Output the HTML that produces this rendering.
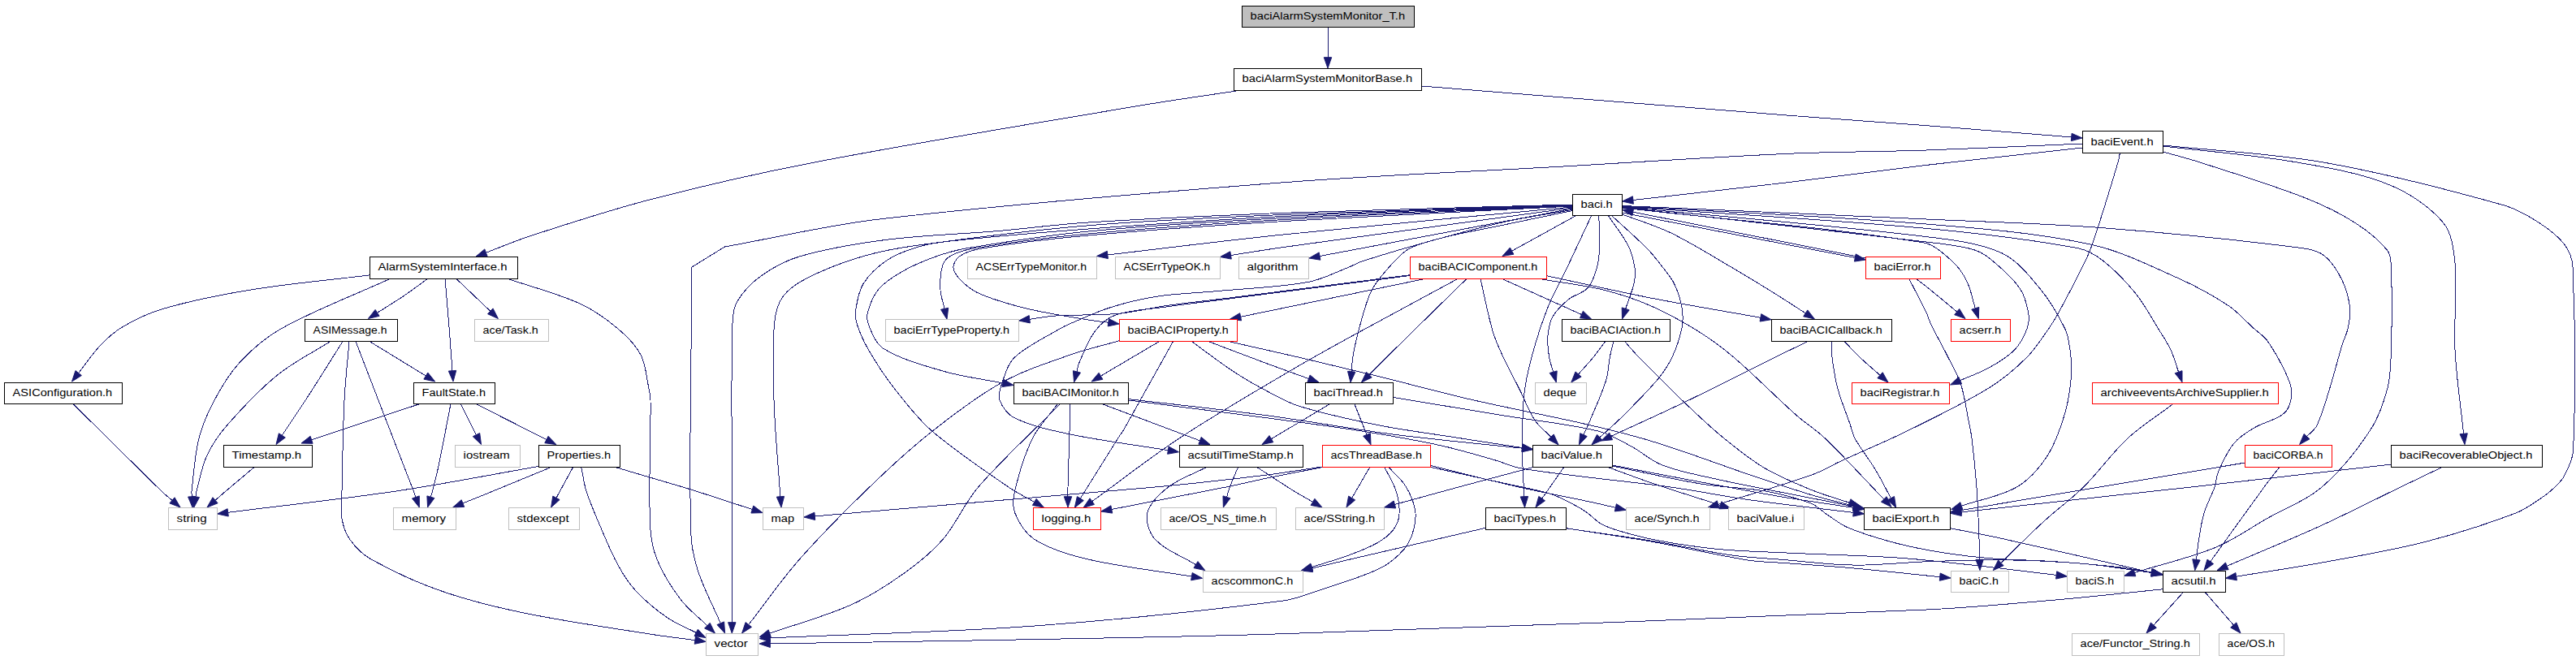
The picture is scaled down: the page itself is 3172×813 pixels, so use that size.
<!DOCTYPE html>
<html><head><meta charset="utf-8"><title>baciAlarmSystemMonitor_T.h include graph</title>
<style>html,body{margin:0;padding:0;background:#fff}svg{display:block}text{font-family:"Liberation Sans",sans-serif;font-size:12px;fill:#000}.e path{shape-rendering:crispEdges;fill:none;stroke:#191970;stroke-width:1}.e polygon{fill:#191970;stroke:#191970;stroke-width:1}.k{fill:#fff;stroke:#000}.g{fill:#fff;stroke:#bfbfbf}.r{fill:#fff;stroke:#f00}.f{fill:#bfbfbf;stroke:#000}</style></head><body>
<svg width="3172" height="813" viewBox="0 0 3172 813">
<rect width="3172" height="813" fill="#fff"/>
<g class="e">
<path d="M1635.0,34.0L1635.0,70.7"/><polygon points="1635.0,84.0 1630.3,70.7 1639.7,70.7"/>
<path d="M1529.0,111.0C1486.0,117.6 1442.9,123.4 1400.0,130.7C1267.5,153.1 1134.7,174.6 1002.7,200.0C934.7,213.1 867.0,228.6 800.0,246.0C750.1,258.9 701.0,275.1 652.0,291.0C633.8,296.9 616.3,304.5 598.4,311.3"/><polygon points="586.0,316.0 596.8,306.9 600.1,315.7"/>
<path d="M1750.6,106.0C1900.4,118.0 2050.2,130.3 2200.0,142.0C2257.3,146.5 2314.7,150.3 2372.0,154.7C2431.6,159.3 2491.2,164.2 2550.7,168.9"/><polygon points="2564.0,170.0 2550.4,173.6 2551.1,164.3"/>
<path d="M2564.2,182.0C2500.1,189.1 2436.0,195.9 2372.0,203.4C2314.3,210.2 2256.7,218.1 2199.0,225.0C2136.3,232.5 2073.6,239.3 2010.9,246.5"/><polygon points="1997.7,248.0 2010.4,241.8 2011.4,251.2"/>
<path d="M2564.2,177.0C2500.1,179.7 2436.1,182.8 2372.0,185.0C2314.7,187.0 2257.3,186.8 2200.0,189.4C2108.3,193.5 2016.7,199.8 1925.0,205.0C1810.0,211.6 1694.8,215.9 1580.0,224.8C1414.0,237.6 1247.9,251.0 1082.6,270.0C1018.7,277.4 955.8,292.7 892.4,304.0C892.4,304.0 892.4,304.0 892.4,304.0C878.8,312.4 865.2,320.8 851.6,329.2C851.6,329.2 851.6,329.2 851.6,329.2C851.5,352.8 851.3,376.4 851.2,400.0C851.0,485.0 848.4,570.2 850.7,655.0C851.1,671.2 854.4,687.6 859.4,703.0C866.6,725.2 878.0,746.2 887.3,767.8"/><polygon points="892.6,780.0 883.0,769.6 891.6,765.9"/>
<path d="M2610.5,188.0C2609.7,192.0 2609.2,196.1 2608.0,200.0C2600.0,227.1 2591.7,254.1 2583.0,281.0C2579.3,292.5 2575.8,304.1 2570.8,315.0C2559.8,338.8 2547.4,361.9 2535.0,385.0C2531.3,391.9 2527.1,398.6 2522.6,405.0C2514.1,416.9 2506.3,429.7 2496.0,440.0C2482.0,453.9 2466.5,467.2 2449.6,477.6C2417.2,497.5 2382.5,514.1 2348.3,531.0C2321.6,544.2 2293.9,555.5 2266.8,568.0C2255.1,573.4 2244.0,580.4 2231.8,584.7C2193.6,598.2 2154.4,609.1 2115.7,621.3"/><polygon points="2103.0,625.3 2114.3,616.8 2117.1,625.8"/>
<path d="M2663.6,187.0C2678.7,191.3 2694.0,195.1 2709.0,200.0C2752.1,214.0 2795.7,227.1 2837.8,243.5C2859.3,251.9 2880.6,262.1 2900.0,274.5C2914.7,283.9 2929.5,295.6 2940.0,308.7C2944.3,314.1 2944.1,322.8 2944.4,330.0C2945.6,363.5 2945.4,397.4 2944.4,431.0C2943.9,446.6 2943.9,462.7 2940.0,477.6C2935.3,495.7 2928.9,514.5 2918.6,530.0C2901.9,555.3 2881.9,580.4 2859.0,600.0C2839.6,616.6 2814.1,625.9 2791.5,638.7C2770.4,650.7 2750.4,665.3 2728.0,674.4C2696.0,687.5 2661.6,695.0 2628.4,705.4"/><polygon points="2615.7,709.3 2627.0,700.9 2629.8,709.8"/>
<path d="M2663.6,180.0C2718.6,186.7 2774.0,190.6 2828.5,200.0C2867.2,206.6 2907.3,213.2 2943.0,228.0C2967.3,238.1 2992.4,255.0 3008.6,274.5C3019.0,287.0 3021.4,307.0 3023.0,324.0C3026.2,359.2 3021.2,395.4 3023.0,431.0C3024.7,465.5 3030.1,499.8 3033.6,534.3"/><polygon points="3035.0,547.5 3029.0,534.8 3038.3,533.8"/>
<path d="M2663.6,179.0C2729.4,186.0 2796.0,188.6 2861.0,200.0C2935.8,213.2 3010.0,232.3 3083.0,252.8C3098.6,257.2 3113.1,265.7 3126.7,274.5C3138.0,281.8 3149.7,290.5 3157.7,301.0C3163.5,308.7 3167.6,319.1 3168.0,329.0C3171.2,403.8 3171.6,480.2 3168.6,555.0C3168.2,565.9 3162.5,576.4 3157.7,586.0C3155.0,591.4 3150.3,595.8 3146.0,600.0C3141.1,604.8 3135.7,609.2 3130.0,613.0C3119.7,619.9 3109.5,627.6 3098.0,632.0C3061.2,645.9 3023.2,658.1 2985.0,667.8C2942.6,678.6 2899.1,685.7 2856.0,693.6C2822.0,699.8 2787.8,704.6 2753.6,710.2"/><polygon points="2740.5,712.3 2752.9,705.5 2754.4,714.8"/>
<path d="M1936.2,252.0C1820.8,255.3 1705.4,257.7 1590.0,262.0C1506.6,265.1 1423.2,268.8 1340.0,274.0C1302.6,276.3 1265.4,281.4 1228.0,284.6C1182.8,288.5 1137.3,289.5 1092.4,295.2C1056.5,299.8 1020.1,305.6 985.6,315.6C968.3,320.6 951.5,329.6 937.0,340.0C925.7,348.1 915.1,359.3 908.0,371.0C903.4,378.6 902.3,388.8 902.0,398.0C900.0,465.1 901.4,532.7 901.3,600.0C901.2,655.6 901.3,711.1 901.3,766.7"/><polygon points="901.3,780.0 896.6,766.7 906.0,766.7"/>
<path d="M1936.2,252.4C1820.8,256.3 1705.4,259.1 1590.0,264.0C1506.6,267.6 1423.1,270.9 1340.0,277.8C1270.1,283.6 1200.4,292.5 1131.0,302.0C1108.1,305.1 1085.1,309.1 1063.0,315.6C1039.9,322.4 1016.8,331.1 995.3,341.8C983.9,347.5 971.6,355.1 964.3,365.0C957.7,373.9 954.6,386.6 953.6,398.0C950.8,429.3 952.0,461.4 953.0,493.0C954.1,528.7 957.6,564.3 960.0,600.0C960.3,603.9 960.6,607.8 960.9,611.7"/><polygon points="962.0,625.0 956.3,612.1 965.6,611.4"/>
<path d="M1936.2,252.8C1820.8,257.2 1705.3,260.4 1590.0,266.0C1506.6,270.1 1423.3,275.9 1340.0,282.0C1283.3,286.2 1226.5,291.0 1170.0,297.0C1156.9,298.4 1143.6,300.2 1131.0,304.0C1117.7,308.0 1103.8,312.8 1092.4,320.5C1081.1,328.0 1070.1,338.3 1063.0,349.6C1057.1,359.0 1055.3,371.5 1053.6,382.6C1052.8,388.3 1053.7,394.5 1055.5,400.0C1059.0,410.7 1063.8,421.2 1069.5,431.0C1078.9,447.1 1089.1,462.9 1100.6,477.6C1115.0,496.0 1129.4,515.1 1147.0,530.4C1176.5,555.9 1209.6,577.7 1241.8,600.0C1251.9,607.0 1263.1,612.2 1273.8,618.4"/><polygon points="1285.3,625.0 1271.4,622.4 1276.1,614.3"/>
<path d="M1936.2,253.2C1820.8,258.1 1705.3,261.8 1590.0,268.0C1506.6,272.4 1423.1,277.1 1340.0,285.0C1289.6,289.8 1239.4,297.7 1189.5,306.0C1176.3,308.2 1163.3,312.1 1150.7,316.6C1137.4,321.4 1124.1,327.0 1111.8,334.0C1101.4,339.9 1090.4,346.6 1082.7,355.4C1076.2,362.8 1071.8,373.1 1069.0,382.6C1067.4,388.0 1067.4,394.8 1069.5,400.0C1073.7,410.4 1078.6,423.7 1088.0,429.5C1109.6,442.8 1137.2,450.2 1162.7,457.5C1186.2,464.3 1210.9,467.1 1235.0,471.9"/><polygon points="1248.0,474.5 1234.0,476.5 1235.9,467.3"/>
<path d="M1936.2,253.6C1820.8,259.1 1705.3,263.3 1590.0,270.0C1506.6,274.8 1423.2,280.3 1340.0,288.0C1292.8,292.3 1245.6,298.4 1199.0,306.0C1189.0,307.6 1178.5,310.8 1170.0,315.6C1165.6,318.1 1161.8,323.2 1160.4,328.0C1157.8,337.1 1157.5,347.7 1158.0,357.4C1158.4,365.1 1161.4,372.7 1163.1,380.3"/><polygon points="1166.0,393.3 1158.5,381.3 1167.7,379.3"/>
<path d="M1936.2,254.0C1820.8,260.0 1705.3,265.0 1590.0,272.0C1506.6,277.0 1423.2,282.6 1340.0,290.0C1296.2,293.9 1252.3,299.0 1209.0,306.0C1199.5,307.5 1189.2,310.5 1181.7,315.6C1177.5,318.5 1173.4,325.3 1174.0,330.0C1174.7,336.0 1180.6,343.0 1185.6,347.7C1192.2,354.0 1200.4,359.5 1209.0,363.0C1227.6,370.5 1247.4,376.1 1267.0,380.7C1291.0,386.4 1315.6,389.9 1340.0,394.0C1348.2,395.4 1356.5,396.2 1364.8,397.3"/><polygon points="1378.0,399.0 1364.2,401.9 1365.4,392.6"/>
<path d="M1936.2,255.0C1817.5,266.3 1698.6,276.8 1580.0,289.0C1507.8,296.4 1435.9,305.6 1363.8,314.0"/><polygon points="1350.6,315.5 1363.3,309.3 1364.4,318.6"/>
<path d="M1936.2,256.0C1817.5,272.2 1698.7,288.1 1580.0,304.6C1558.5,307.6 1537.0,311.2 1515.5,314.5"/><polygon points="1502.4,316.5 1514.8,309.8 1516.3,319.1"/>
<path d="M1936.2,257.0L1625.1,315.5"/><polygon points="1612.0,318.0 1624.2,310.9 1625.9,320.2"/>
<path d="M1936.2,258.5C1908.1,263.5 1879.7,267.3 1851.8,273.5C1819.2,280.7 1786.9,289.9 1754.7,298.8C1728.7,306.0 1702.7,313.6 1677.0,322.0C1670.8,324.0 1665.1,327.6 1659.0,330.0C1643.0,336.1 1627.4,344.5 1610.6,347.5C1572.4,354.2 1532.9,355.3 1494.0,359.0C1471.3,361.1 1448.4,361.5 1426.0,365.0C1406.4,368.0 1386.9,372.6 1368.0,378.5C1351.4,383.6 1335.5,391.2 1319.4,398.0C1314.5,400.1 1309.6,402.3 1305.0,405.0C1286.3,416.3 1265.0,425.6 1249.6,440.0C1241.4,447.7 1237.8,460.5 1234.0,471.4C1231.6,478.2 1228.8,486.7 1231.0,493.0C1234.0,501.3 1241.3,511.0 1249.6,515.0C1270.3,525.0 1294.8,530.1 1318.0,535.0C1357.7,543.3 1398.2,548.1 1438.4,554.7"/><polygon points="1451.5,556.8 1437.6,559.3 1439.1,550.0"/>
<path d="M1936.2,259.5C1908.1,265.3 1879.9,271.1 1851.8,277.0C1827.9,282.0 1803.7,286.0 1780.0,292.0C1764.7,295.9 1748.5,299.2 1735.0,306.5C1725.1,311.8 1717.3,321.4 1709.7,330.0C1701.8,338.9 1693.4,348.3 1688.3,359.0C1681.1,374.2 1677.4,391.3 1672.8,407.7C1669.9,418.3 1667.7,429.2 1665.8,440.0C1664.8,445.8 1664.7,451.8 1664.2,457.8"/><polygon points="1663.0,471.0 1659.5,457.3 1668.9,458.2"/>
<path d="M1940.0,266.0L1861.7,309.1"/><polygon points="1850.0,315.5 1859.4,305.0 1863.9,313.2"/>
<path d="M1959.5,266.0C1949.5,287.3 1939.6,308.7 1929.5,330.0C1921.8,346.2 1912.6,361.8 1906.0,378.5C1898.1,398.5 1891.6,419.2 1886.0,440.0C1881.7,455.9 1878.1,472.2 1876.5,488.5C1874.3,512.2 1874.5,536.2 1874.6,560.0C1874.7,577.2 1876.1,594.5 1876.9,611.7"/><polygon points="1877.5,625.0 1872.2,611.9 1881.6,611.5"/>
<path d="M1968.8,266.0C1969.1,278.2 1970.3,290.4 1969.8,302.5C1969.5,311.7 1968.9,321.2 1966.4,330.0C1963.9,338.7 1960.6,348.5 1954.7,355.0C1948.9,361.4 1938.3,363.1 1931.4,368.8C1924.1,374.8 1916.6,381.9 1912.0,390.0C1908.1,396.8 1906.7,405.5 1906.0,413.5C1905.2,422.2 1906.3,431.3 1907.6,440.0C1908.5,446.2 1911.0,452.1 1912.7,458.2"/><polygon points="1916.3,471.0 1908.2,459.5 1917.2,456.9"/>
<path d="M1980.6,266.0C1988.7,278.2 1998.4,289.7 2005.0,302.7C2009.2,311.1 2011.6,320.7 2013.0,330.0C2013.9,336.3 2013.4,343.1 2012.0,349.4C2009.6,359.9 2005.1,370.1 2001.7,380.4"/><polygon points="1997.5,393.0 1997.2,378.9 2006.2,381.9"/>
<path d="M1985.0,266.0C1999.5,279.5 2014.6,292.4 2028.5,306.5C2035.6,313.7 2041.8,321.9 2048.0,330.0C2052.8,336.2 2058.2,342.4 2061.5,349.4C2065.8,358.5 2069.3,368.6 2071.0,378.5C2072.4,386.7 2072.6,395.6 2071.0,403.8C2068.6,416.1 2064.3,428.6 2059.0,440.0C2054.5,449.6 2048.4,458.8 2041.5,467.0C2027.7,483.4 2012.2,498.6 1997.0,513.8C1988.3,522.5 1978.9,530.5 1969.8,538.8"/><polygon points="1960.0,547.8 1966.6,535.3 1973.0,542.3"/>
<path d="M1997.7,264.0C2017.7,271.7 2038.5,277.7 2057.7,287.0C2083.7,299.7 2108.3,315.4 2133.4,330.0C2151.7,340.7 2169.7,351.8 2187.7,363.0C2199.6,370.4 2211.4,378.2 2223.2,385.8"/><polygon points="2234.4,393.0 2220.7,389.8 2225.8,381.9"/>
<path d="M1997.7,262.0L2284.3,317.5"/><polygon points="2297.4,320.0 2283.4,322.1 2285.2,312.9"/>
<path d="M2297.4,318.0L2010.7,261.1"/><polygon points="1997.7,258.5 2011.7,256.5 2009.8,265.7"/>
<path d="M1997.7,256.0C2121.1,270.3 2246.4,279.3 2368.0,298.8C2381.5,301.0 2392.8,312.0 2403.0,321.0C2410.7,327.8 2417.1,336.8 2421.7,346.0C2426.9,356.4 2428.8,368.5 2432.3,379.8"/><polygon points="2436.3,392.5 2427.8,381.2 2436.8,378.4"/>
<path d="M1997.7,255.5C2122.5,269.7 2247.3,283.2 2372.0,298.0C2390.3,300.2 2408.9,302.0 2426.6,306.5C2434.8,308.6 2443.0,312.7 2449.6,318.0C2463.1,328.9 2477.1,341.0 2487.0,355.0C2493.2,363.7 2495.9,375.5 2497.8,386.0C2498.9,392.1 2498.2,399.2 2496.0,405.0C2492.5,414.2 2487.5,423.9 2480.7,431.0C2472.1,439.9 2460.6,446.6 2449.6,452.8C2438.2,459.2 2425.6,463.4 2413.7,468.6"/><polygon points="2401.5,474.0 2411.8,464.3 2415.6,472.9"/>
<path d="M1997.7,255.0C2122.5,267.2 2247.7,276.5 2372.0,291.6C2403.5,295.4 2437.1,299.1 2465.0,311.8C2483.7,320.3 2498.3,339.1 2511.8,355.3C2524.2,370.2 2534.3,387.7 2542.8,405.0C2546.7,412.9 2547.8,422.2 2549.0,431.0C2550.4,441.2 2551.4,451.7 2550.6,462.0C2549.4,477.6 2547.3,493.7 2542.8,508.7C2537.4,526.8 2531.2,545.8 2521.0,561.5C2511.4,576.3 2498.4,591.2 2483.3,600.0C2463.2,611.7 2438.0,615.4 2415.3,623.1"/><polygon points="2402.7,627.4 2413.8,618.7 2416.8,627.6"/>
<path d="M1997.7,254.5C2122.5,263.5 2247.5,270.0 2372.0,281.4C2434.2,287.1 2496.9,294.5 2558.0,305.6C2569.4,307.7 2580.3,313.9 2589.4,321.0C2604.3,332.6 2617.8,346.8 2629.8,361.5C2640.6,374.8 2648.6,390.4 2657.7,405.0C2663.0,413.5 2668.8,421.9 2673.0,431.0C2677.1,439.7 2679.4,449.2 2682.6,458.3"/><polygon points="2687.0,470.8 2678.2,459.8 2687.0,456.7"/>
<path d="M1997.7,254.0C2122.5,261.3 2247.5,265.8 2372.0,276.0C2439.6,281.5 2508.1,286.8 2574.0,301.0C2611.7,309.1 2647.2,327.2 2682.6,342.9C2704.1,352.5 2725.2,364.0 2744.7,377.0C2756.2,384.7 2765.3,395.7 2775.7,405.0C2780.8,409.6 2787.0,413.2 2791.0,418.6C2799.4,430.2 2806.8,443.0 2813.0,456.0C2817.2,464.8 2822.0,474.7 2822.0,484.0C2822.0,492.3 2819.0,503.1 2813.0,508.7C2803.5,517.5 2787.5,519.9 2775.7,527.0C2766.8,532.3 2757.4,538.1 2750.9,546.0C2742.8,555.8 2737.2,568.2 2732.0,580.0C2729.2,586.2 2729.2,593.5 2727.0,600.0C2723.2,610.9 2717.3,621.0 2714.0,632.0C2710.8,642.5 2709.4,653.6 2707.6,664.5C2706.2,672.7 2705.5,681.1 2704.5,689.4"/><polygon points="2702.8,702.6 2699.8,688.8 2709.1,690.0"/>
<path d="M1997.7,253.5C2122.5,259.0 2247.2,264.3 2372.0,270.0C2444.3,273.3 2516.8,275.1 2589.0,280.7C2671.0,287.0 2753.3,295.2 2834.7,305.6C2844.5,306.8 2855.4,309.5 2862.7,315.5C2871.9,323.0 2879.1,334.9 2884.4,346.0C2889.4,356.4 2892.4,368.5 2893.7,380.0C2894.6,388.2 2892.8,396.9 2891.0,405.0C2889.5,411.9 2886.0,418.2 2884.0,425.0C2878.7,442.4 2874.4,460.2 2869.0,477.6C2864.1,493.2 2859.9,509.5 2853.0,524.0C2850.4,529.5 2844.7,533.1 2840.6,537.7"/><polygon points="2831.6,547.5 2837.1,534.5 2844.0,540.8"/>
<path d="M456.0,338.8C407.3,344.8 358.4,349.0 310.0,356.8C273.7,362.7 237.2,369.9 202.0,380.0C184.6,385.0 167.6,393.0 152.0,402.0C141.6,408.0 132.3,416.3 124.0,425.0C113.9,435.5 105.8,448.0 96.7,459.6"/><polygon points="88.5,470.0 93.0,456.6 100.4,462.5"/>
<path d="M480.0,343.5C435.3,364.0 388.6,381.2 346.0,405.0C327.0,415.6 309.8,430.7 295.0,446.6C282.5,460.1 272.7,476.7 264.0,493.0C256.1,507.8 249.1,523.7 245.0,540.0C239.7,561.1 238.6,583.3 236.0,605.0C235.7,607.2 236.2,609.5 236.3,611.7"/><polygon points="237.0,625.0 231.6,612.0 241.0,611.5"/>
<path d="M526.4,343.5C516.6,350.5 507.0,357.8 497.0,364.6C486.4,371.8 475.4,378.4 464.6,385.3"/><polygon points="453.4,392.5 462.1,381.4 467.1,389.3"/>
<path d="M548.0,343.5C549.6,362.3 551.3,381.2 552.8,400.0C554.3,418.9 555.6,437.8 557.0,456.7"/><polygon points="558.0,470.0 552.3,457.1 561.7,456.4"/>
<path d="M562.0,343.5L603.8,383.3"/><polygon points="613.4,392.5 600.5,386.7 607.0,379.9"/>
<path d="M625.8,343.5C655.2,353.7 685.9,361.2 714.0,374.0C731.0,381.7 746.8,393.0 761.0,405.0C771.8,414.0 782.6,424.8 789.0,437.0C795.2,449.0 795.9,464.0 798.8,477.6C799.9,482.7 800.9,487.8 801.0,493.0C801.5,544.6 798.4,596.6 800.6,648.0C801.2,662.2 804.0,677.0 809.4,690.0C816.6,707.2 827.0,723.9 838.4,738.8C847.5,750.8 860.1,760.1 870.9,770.7"/><polygon points="880.4,780.0 867.6,774.0 874.2,767.3"/>
<path d="M407.0,420.5C385.2,434.3 361.5,445.8 341.6,462.0C319.0,480.3 298.7,502.1 279.5,524.0C269.7,535.2 260.9,548.1 254.7,561.5C248.4,575.1 246.0,590.4 242.0,605.0C241.4,607.2 241.3,609.6 240.9,611.9"/><polygon points="238.8,625.0 236.3,611.1 245.5,612.6"/>
<path d="M422.0,420.5C408.7,441.7 395.5,463.0 382.0,484.0C370.7,501.6 358.9,518.9 347.3,536.4"/><polygon points="340.0,547.5 343.4,533.8 351.3,539.0"/>
<path d="M430.0,420.5C428.0,444.7 425.2,468.8 424.0,493.0C422.2,530.3 421.8,567.7 421.0,605.0C420.8,616.2 419.2,627.8 421.0,638.7C422.5,647.6 425.6,657.2 430.8,664.5C437.5,673.9 446.4,682.9 456.6,688.7C483.5,703.9 512.6,717.2 542.0,727.5C575.4,739.3 610.2,747.8 645.0,755.0C696.2,765.6 748.3,772.8 800.0,781.0C818.5,784.0 837.2,786.1 855.8,788.6"/><polygon points="869.0,790.4 855.2,793.3 856.5,783.9"/>
<path d="M438.0,420.5C449.3,449.9 460.6,479.3 472.0,508.7C484.4,540.8 496.9,572.9 509.3,605.0C510.2,607.5 511.0,610.0 511.9,612.4"/><polygon points="516.3,625.0 507.5,614.0 516.3,610.9"/>
<path d="M455.0,420.5L524.4,463.0"/><polygon points="535.7,470.0 521.9,467.1 526.8,459.0"/>
<path d="M90.0,497.5C126.3,533.3 162.3,569.4 198.8,605.0C202.9,609.0 207.6,612.5 211.9,616.3"/><polygon points="222.0,625.0 208.9,619.9 215.0,612.8"/>
<path d="M517.0,497.5L383.6,541.8"/><polygon points="371.0,546.0 382.1,537.3 385.1,546.3"/>
<path d="M555.0,497.5C550.0,523.0 545.3,548.6 540.0,574.0C537.8,584.4 535.2,594.7 532.6,605.0C532.0,607.5 531.1,609.8 530.4,612.3"/><polygon points="526.6,625.0 525.9,610.9 534.9,613.6"/>
<path d="M567.4,497.5L586.5,535.6"/><polygon points="592.5,547.5 582.3,537.7 590.7,533.5"/>
<path d="M586.0,497.5L672.9,541.5"/><polygon points="684.8,547.5 670.8,545.7 675.1,537.3"/>
<path d="M313.0,575.5C301.3,585.3 289.6,595.1 278.0,605.0C273.6,608.7 269.4,612.5 265.0,616.3"/><polygon points="255.0,625.0 262.0,612.7 268.1,619.8"/>
<path d="M663.0,574.5C604.5,584.7 546.3,596.3 487.6,605.0C418.8,615.2 349.7,622.5 280.7,631.3"/><polygon points="267.5,633.0 280.1,626.7 281.3,636.0"/>
<path d="M678.6,575.5C654.7,585.3 630.9,595.2 607.0,605.0C594.7,610.1 582.3,615.0 569.9,620.0"/><polygon points="557.6,625.0 568.2,615.7 571.7,624.4"/>
<path d="M705.6,575.5L685.0,613.3"/><polygon points="678.6,625.0 680.8,611.1 689.1,615.6"/>
<path d="M715.8,575.5C717.9,585.3 718.9,595.5 722.0,605.0C726.7,619.6 732.9,633.8 739.0,648.0C746.1,664.5 752.8,681.4 761.5,697.0C767.8,708.4 775.1,719.6 784.0,729.0C795.3,740.9 808.4,751.7 822.0,761.0C832.8,768.5 845.5,773.2 857.2,779.4"/><polygon points="869.0,785.5 855.0,783.5 859.4,775.2"/>
<path d="M757.8,575.5C771.9,579.7 785.9,583.8 800.0,588.0C817.3,593.1 834.7,598.0 852.0,603.4C876.9,611.2 901.6,619.5 926.3,627.5"/><polygon points="939.0,631.6 924.9,632.0 927.8,623.0"/>
<path d="M1736.2,338.7C1662.0,348.1 1587.8,357.6 1513.6,367.0C1487.7,370.3 1461.8,372.9 1436.0,376.6C1416.5,379.4 1397.3,384.5 1377.7,386.3C1351.9,388.6 1325.8,387.4 1300.0,389.0C1289.2,389.7 1278.5,391.8 1267.8,393.3"/><polygon points="1254.6,395.0 1267.2,388.6 1268.4,397.9"/>
<path d="M1736.2,339.5C1662.0,349.0 1587.8,358.5 1513.6,368.0C1487.7,371.3 1461.8,374.3 1436.0,378.0C1415.2,381.0 1393.1,381.4 1373.8,388.0C1364.0,391.3 1354.8,399.4 1348.5,407.7C1339.9,418.9 1334.9,433.3 1329.0,446.5C1327.4,450.1 1327.0,454.1 1326.0,457.9"/><polygon points="1322.6,470.8 1321.4,456.7 1330.5,459.1"/>
<path d="M1754.4,343.5L1527.6,390.3"/><polygon points="1514.6,393.0 1526.7,385.7 1528.6,394.9"/>
<path d="M1795.0,343.5C1753.0,366.2 1710.9,388.6 1669.0,411.6C1642.5,426.1 1616.0,440.6 1590.0,456.0C1543.7,483.4 1496.9,510.4 1452.0,540.0C1415.2,564.3 1380.5,591.7 1344.8,617.6"/><polygon points="1334.0,625.4 1342.0,613.8 1347.5,621.4"/>
<path d="M1806.0,343.5C1797.3,351.9 1788.6,360.3 1780.0,368.8C1755.8,392.5 1731.6,416.2 1707.5,440.0C1700.3,447.1 1693.1,454.4 1685.9,461.6"/><polygon points="1676.5,471.0 1682.6,458.3 1689.2,464.9"/>
<path d="M1823.0,343.6C1828.0,365.0 1831.9,386.7 1838.0,407.7C1841.2,418.8 1846.2,429.5 1851.0,440.0C1857.1,453.2 1864.2,465.8 1870.7,478.8C1877.2,491.7 1882.1,505.7 1890.0,517.7C1895.2,525.5 1903.2,531.4 1909.8,538.2"/><polygon points="1919.0,547.8 1906.4,541.5 1913.2,535.0"/>
<path d="M1850.0,343.6L1947.5,387.5"/><polygon points="1959.6,393.0 1945.5,391.8 1949.4,383.2"/>
<path d="M1904.3,339.7C1947.0,348.8 1989.6,358.6 2032.4,367.0C2077.4,375.8 2122.7,383.2 2167.9,391.3"/><polygon points="2181.0,393.7 2167.1,396.0 2168.7,386.7"/>
<path d="M1896.5,343.6C1922.3,348.1 1948.6,350.8 1974.0,357.0C1993.9,361.8 2013.6,368.4 2032.4,376.6C2052.5,385.3 2071.9,396.1 2090.6,407.7C2106.0,417.3 2120.9,428.2 2134.7,440.0C2161.5,462.9 2186.0,488.4 2212.4,511.8C2223.6,521.7 2236.6,529.6 2247.4,540.0C2272.4,564.0 2295.6,590.0 2319.8,614.9"/><polygon points="2329.0,624.5 2316.4,618.2 2323.1,611.7"/>
<path d="M1378.5,419.7C1358.3,425.5 1337.7,430.0 1318.0,437.0C1289.6,447.1 1260.2,456.4 1234.0,471.0C1203.2,488.1 1174.7,510.1 1147.0,532.0C1120.3,553.1 1095.2,576.3 1070.7,600.0C1040.7,629.0 1011.1,658.7 983.6,690.0C961.5,715.2 942.4,743.0 921.8,769.5"/><polygon points="913.6,780.0 918.1,766.6 925.5,772.4"/>
<path d="M1428.0,420.3L1355.4,463.2"/><polygon points="1344.0,470.0 1353.1,459.2 1357.8,467.3"/>
<path d="M1444.7,420.3C1424.6,456.2 1404.8,492.3 1384.5,528.0C1382.1,532.2 1379.1,535.9 1376.6,540.0C1361.1,564.7 1345.8,589.4 1330.3,614.1"/><polygon points="1323.3,625.4 1326.4,611.6 1334.3,616.6"/>
<path d="M1487.4,420.3C1511.6,429.5 1535.7,438.8 1560.0,447.8C1577.1,454.2 1594.3,460.2 1611.5,466.5"/><polygon points="1624.0,471.0 1609.9,470.9 1613.1,462.0"/>
<path d="M1467.0,420.3C1484.5,432.9 1501.5,446.2 1519.4,458.0C1532.5,466.6 1546.2,474.4 1560.0,481.7C1572.6,488.4 1585.2,495.8 1598.8,500.0C1630.5,509.8 1663.3,516.9 1696.0,523.5C1728.1,529.9 1760.7,533.9 1793.0,539.0C1820.2,543.3 1847.4,547.4 1874.6,551.6"/><polygon points="1887.7,553.6 1873.8,556.2 1875.3,546.9"/>
<path d="M1511.7,420.3C1540.7,426.9 1569.8,433.2 1598.8,440.0C1631.2,447.6 1663.6,455.4 1696.0,463.3C1734.8,472.8 1773.4,483.4 1812.4,492.4C1857.5,502.8 1903.1,511.2 1948.3,521.5C1973.0,527.1 1997.6,533.2 2022.0,540.0C2040.4,545.2 2058.4,551.4 2076.5,557.5C2102.4,566.3 2128.1,575.9 2154.0,584.7C2179.8,593.4 2205.7,602.2 2231.8,610.0C2248.6,615.0 2265.7,618.7 2282.6,623.1"/><polygon points="2295.5,626.4 2281.4,627.6 2283.8,618.5"/>
<path d="M1977.0,420.3C1972.0,426.9 1967.2,433.6 1962.0,440.0C1956.1,447.2 1949.7,454.0 1943.6,461.0"/><polygon points="1934.8,471.0 1940.0,457.9 1947.1,464.1"/>
<path d="M1986.8,420.3C1985.3,426.9 1983.6,433.4 1982.3,440.0C1980.5,449.6 1980.4,459.7 1977.5,469.0C1972.3,485.6 1964.7,501.5 1958.0,517.7C1955.5,523.8 1952.6,529.7 1949.9,535.7"/><polygon points="1944.5,547.8 1945.7,533.7 1954.2,537.6"/>
<path d="M2000.4,420.3C2006.3,426.9 2011.8,433.7 2018.0,440.0C2037.2,459.6 2056.6,479.1 2076.5,498.0C2091.6,512.4 2106.8,526.8 2123.0,540.0C2139.2,553.2 2155.7,566.5 2173.6,577.0C2191.9,587.8 2212.0,595.9 2231.8,604.0C2246.6,610.0 2262.2,614.2 2277.4,619.3"/><polygon points="2290.0,623.5 2275.9,623.7 2278.9,614.8"/>
<path d="M2226.6,420.3C2213.1,426.9 2199.5,433.3 2186.0,440.0C2149.5,458.0 2113.2,476.7 2076.5,494.4C2045.8,509.2 2014.6,523.1 1983.7,537.4"/><polygon points="1971.6,543.0 1981.7,533.1 1985.6,541.7"/>
<path d="M2255.7,420.3C2255.8,426.9 2255.2,433.5 2256.0,440.0C2257.6,453.0 2259.6,466.1 2263.0,478.8C2267.1,494.0 2273.3,508.6 2278.4,523.5C2280.3,529.0 2281.2,535.0 2284.0,540.0C2291.5,553.4 2301.5,565.6 2309.5,578.8C2316.3,590.1 2322.1,602.1 2328.4,613.7"/><polygon points="2334.7,625.4 2324.2,615.9 2332.5,611.5"/>
<path d="M2271.0,420.3C2277.3,426.9 2283.4,433.7 2290.0,440.0C2298.1,447.7 2306.7,454.8 2315.0,462.2"/><polygon points="2325.0,471.0 2311.9,465.7 2318.2,458.7"/>
<path d="M2359.6,343.5C2363.7,346.7 2368.0,349.7 2372.0,353.0C2384.7,363.2 2397.2,373.7 2409.7,384.0"/><polygon points="2420.0,392.5 2406.7,387.7 2412.7,380.4"/>
<path d="M2350.8,343.5C2357.9,357.3 2365.3,371.0 2372.0,385.0C2374.3,389.8 2375.6,395.2 2378.0,400.0C2384.6,413.5 2392.1,426.6 2398.8,440.0C2404.2,450.9 2410.7,461.5 2414.4,473.0C2419.1,487.4 2421.0,502.8 2424.0,517.7C2425.5,525.1 2427.1,532.5 2428.0,540.0C2430.4,559.3 2432.3,578.6 2433.8,598.0C2435.1,614.8 2435.8,631.6 2436.5,648.4C2437.1,662.0 2437.3,675.7 2437.6,689.3"/><polygon points="2438.0,702.6 2432.9,689.4 2442.3,689.2"/>
<path d="M1305.5,497.5C1271.9,531.7 1235.9,563.9 1204.6,600.0C1187.7,619.5 1177.8,645.0 1161.0,664.5C1147.2,680.5 1130.0,694.2 1112.7,706.5C1092.3,721.0 1070.8,734.8 1048.0,745.0C1015.8,759.4 981.2,768.5 947.7,780.2"/><polygon points="935.2,784.6 946.2,775.8 949.3,784.6"/>
<path d="M1302.4,497.5C1292.1,511.7 1279.0,524.4 1271.4,540.0C1261.4,560.3 1254.8,583.0 1249.6,605.0C1247.6,613.7 1246.5,624.1 1249.8,632.0C1254.7,643.9 1263.0,657.5 1274.0,664.5C1292.6,676.4 1316.3,683.4 1338.6,688.7C1380.8,698.6 1424.5,703.0 1467.4,710.1"/><polygon points="1480.5,712.3 1466.6,714.8 1468.2,705.5"/>
<path d="M1318.0,497.5C1317.0,531.7 1315.9,565.8 1315.0,600.0C1314.9,603.9 1315.0,607.8 1315.0,611.7"/><polygon points="1315.0,625.0 1310.3,611.7 1319.7,611.7"/>
<path d="M1356.8,497.5L1477.5,542.8"/><polygon points="1490.0,547.5 1475.9,547.2 1479.2,538.4"/>
<path d="M1389.7,491.6C1446.5,498.3 1503.3,504.2 1560.0,511.8C1611.8,518.7 1663.2,528.3 1715.0,535.0C1768.0,541.8 1821.3,546.5 1874.5,552.2"/><polygon points="1887.7,553.6 1874.0,556.8 1875.0,547.5"/>
<path d="M1389.7,493.0C1446.5,500.3 1503.3,507.3 1560.0,514.8C1598.9,519.9 1637.8,524.9 1676.5,531.0C1709.0,536.2 1741.5,541.7 1773.6,548.7C1796.5,553.7 1819.0,560.5 1841.5,567.0C1851.3,569.8 1860.7,574.6 1870.7,576.5C1896.3,581.3 1922.4,583.7 1948.3,587.0C1984.5,591.6 2020.9,595.0 2057.0,600.0C2089.4,604.5 2121.6,611.2 2154.0,615.7C2196.7,621.6 2239.5,626.2 2282.3,631.4"/><polygon points="2295.5,633.0 2281.7,636.1 2282.9,626.7"/>
<path d="M1637.7,497.5L1565.4,540.7"/><polygon points="1554.0,547.5 1563.0,536.6 1567.8,544.7"/>
<path d="M1667.8,497.5L1683.0,535.5"/><polygon points="1688.0,547.8 1678.7,537.2 1687.4,533.7"/>
<path d="M1715.7,489.5C1760.8,496.9 1805.9,504.4 1851.0,511.8C1889.9,518.2 1929.6,521.8 1967.7,531.0C1982.1,534.5 1995.3,542.7 2008.5,549.7C2021.7,556.7 2033.1,567.7 2047.0,573.0C2068.6,581.3 2092.2,585.4 2115.0,590.5C2147.2,597.7 2179.7,603.6 2212.0,610.0C2235.5,614.7 2259.0,619.2 2282.4,623.8"/><polygon points="2295.5,626.4 2281.5,628.4 2283.4,619.2"/>
<path d="M1485.7,575.5C1470.0,583.7 1452.3,589.4 1438.6,600.0C1428.0,608.2 1415.7,620.2 1412.8,632.0C1410.4,641.7 1415.2,656.8 1422.5,664.5C1435.1,677.9 1455.8,685.2 1472.5,695.6"/><polygon points="1483.8,702.6 1470.0,699.6 1475.0,691.6"/>
<path d="M1524.5,575.5C1521.1,583.7 1517.5,591.8 1514.4,600.0C1512.9,604.0 1511.8,608.2 1510.5,612.3"/><polygon points="1506.4,625.0 1506.0,610.9 1514.9,613.8"/>
<path d="M1547.8,575.5C1562.9,585.2 1577.8,595.2 1593.0,604.7C1600.7,609.5 1608.7,613.8 1616.5,618.3"/><polygon points="1628.0,625.0 1614.1,622.4 1618.9,614.3"/>
<path d="M1628.3,575.0C1605.5,578.3 1582.8,582.2 1560.0,585.0C1514.2,590.6 1468.4,595.8 1422.5,600.0C1282.8,612.8 1143.0,623.9 1003.3,635.9"/><polygon points="990.0,637.0 1002.9,631.2 1003.7,640.5"/>
<path d="M1628.3,575.5C1605.5,580.0 1582.7,584.3 1560.0,589.0C1543.2,592.5 1526.5,596.6 1509.6,600.0C1462.7,609.4 1415.7,618.3 1368.8,627.5"/><polygon points="1355.7,630.0 1367.9,622.8 1369.7,632.1"/>
<path d="M1687.0,575.0L1664.7,613.5"/><polygon points="1658.0,625.0 1660.6,611.1 1668.7,615.9"/>
<path d="M1704.6,575.0C1709.4,584.9 1715.8,594.3 1719.0,604.7C1721.9,613.9 1723.7,624.4 1723.0,633.8C1722.5,640.5 1719.4,647.7 1715.3,653.0C1710.4,659.4 1703.1,664.6 1696.0,668.7C1684.9,675.0 1672.7,679.6 1660.7,684.0C1645.8,689.5 1630.4,693.7 1615.3,698.5"/><polygon points="1602.6,702.6 1613.8,694.1 1616.7,703.0"/>
<path d="M1709.5,575.0C1716.6,582.9 1725.3,589.9 1730.8,598.8C1736.3,607.6 1740.7,617.9 1742.5,628.0C1743.9,636.0 1742.7,645.1 1740.5,653.0C1738.2,661.3 1734.6,670.1 1729.0,676.5C1720.9,685.8 1710.6,694.5 1699.4,700.0C1677.0,711.0 1652.3,717.8 1628.4,725.8C1612.5,731.1 1596.6,737.9 1580.0,740.0C1478.5,752.9 1376.2,763.6 1274.0,771.0C1165.6,778.9 1056.9,780.9 948.3,785.9"/><polygon points="935.0,786.5 948.1,781.2 948.5,790.6"/>
<path d="M1762.0,573.6C1798.1,582.4 1834.1,591.8 1870.4,600.0C1900.1,606.8 1930.2,612.2 1960.0,618.6C1969.8,620.7 1979.6,623.1 1989.3,625.3"/><polygon points="2002.3,628.3 1988.3,629.9 1990.4,620.7"/>
<path d="M1762.0,575.5C1791.7,582.0 1821.4,588.4 1851.0,595.0C1870.5,599.4 1890.5,602.6 1909.5,608.5C1919.7,611.6 1929.1,617.1 1938.6,622.0C1944.1,624.8 1949.4,628.0 1954.4,631.6C1959.9,635.5 1964.3,640.8 1970.0,644.3C1975.3,647.6 1981.4,650.1 1987.4,652.0C2003.4,656.9 2019.6,661.5 2036.0,664.7C2061.6,669.6 2087.6,673.7 2113.6,676.3C2142.3,679.1 2171.2,679.6 2200.0,681.0C2245.3,683.2 2290.7,684.0 2336.0,687.0C2368.4,689.2 2400.7,693.1 2433.0,696.6C2466.1,700.2 2499.1,704.5 2532.2,708.4"/><polygon points="2545.4,710.0 2531.6,713.1 2532.7,703.8"/>
<path d="M1887.7,575.5C1857.1,583.7 1826.5,591.7 1796.0,600.0C1769.8,607.1 1743.6,614.3 1717.4,621.5"/><polygon points="1704.6,625.0 1716.2,617.0 1718.7,626.0"/>
<path d="M1926.0,575.0C1920.5,582.9 1915.0,590.9 1909.5,598.8C1905.9,603.9 1902.3,609.0 1898.7,614.1"/><polygon points="1891.0,625.0 1894.8,611.4 1902.5,616.8"/>
<path d="M1979.4,575.3C1998.8,582.3 2018.1,589.7 2037.7,596.3C2064.5,605.4 2091.5,613.6 2118.3,622.3"/><polygon points="2131.0,626.4 2116.9,626.8 2119.8,617.8"/>
<path d="M1985.2,573.0C2015.6,578.8 2046.0,584.8 2076.5,590.5C2115.3,597.7 2154.1,605.2 2193.0,611.8C2222.7,616.8 2252.6,620.9 2282.4,625.4"/><polygon points="2295.5,627.4 2281.6,630.0 2283.1,620.8"/>
<path d="M1985.2,574.0C2022.1,581.4 2058.9,590.2 2096.0,596.3C2121.7,600.5 2148.0,600.5 2173.6,605.0C2192.7,608.4 2212.0,613.2 2230.0,620.0C2237.3,622.8 2242.9,629.3 2249.5,633.6C2258.1,639.3 2266.2,646.1 2275.7,650.0C2295.1,658.0 2315.6,664.1 2336.0,669.4C2355.0,674.4 2374.5,677.9 2394.0,681.0C2413.3,684.1 2432.9,686.4 2452.4,687.9C2478.2,689.9 2504.2,689.9 2530.0,691.7C2556.0,693.5 2581.9,695.6 2607.8,698.5C2621.7,700.1 2635.5,703.0 2649.4,705.2"/><polygon points="2662.5,707.3 2648.6,709.8 2650.1,700.5"/>
<path d="M1829.3,650.3C1775.1,662.9 1721.0,675.4 1666.8,688.0C1649.7,692.0 1632.6,696.0 1615.6,700.0"/><polygon points="1602.6,703.0 1614.5,695.4 1616.6,704.6"/>
<path d="M1928.5,650.7C1964.3,656.3 2000.3,661.3 2036.0,667.6C2074.9,674.4 2113.4,683.8 2152.4,690.0C2168.1,692.5 2184.1,692.5 2200.0,693.7C2225.9,695.7 2251.8,697.2 2277.6,699.5C2314.7,702.8 2351.7,706.9 2388.8,710.7"/><polygon points="2402.0,712.0 2388.3,715.3 2389.2,706.0"/>
<path d="M1928.5,650.7C1964.3,656.0 2000.3,660.8 2036.0,666.6C2068.4,671.9 2100.5,679.4 2133.0,684.0C2155.2,687.1 2177.7,687.8 2200.0,689.8C2219.3,691.5 2238.6,693.8 2258.0,695.0C2271.0,695.8 2284.0,696.4 2297.0,696.0C2323.0,695.3 2349.0,692.6 2375.0,691.7C2407.3,690.6 2439.7,689.3 2472.0,689.8C2504.4,690.3 2536.8,691.8 2569.0,694.7C2595.9,697.1 2622.5,701.9 2649.3,705.5"/><polygon points="2662.5,707.3 2648.7,710.2 2649.9,700.9"/>
<path d="M2401.7,650.7C2421.1,654.6 2440.6,658.0 2460.0,662.3C2523.5,676.3 2586.9,691.0 2650.3,705.4"/><polygon points="2663.3,708.3 2649.3,709.9 2651.4,700.8"/>
<path d="M2764.5,570.0C2704.7,580.0 2644.8,590.0 2585.0,600.0C2528.3,609.5 2471.5,619.0 2414.8,628.5"/><polygon points="2401.7,630.7 2414.0,623.9 2415.6,633.1"/>
<path d="M2806.8,575.5C2800.5,583.7 2794.1,591.7 2788.0,600.0C2765.7,630.5 2743.9,661.2 2721.8,691.8"/><polygon points="2714.0,702.6 2718.0,689.1 2725.6,694.6"/>
<path d="M2945.0,572.0C2862.7,581.3 2780.4,590.9 2698.0,600.0C2603.7,610.5 2509.3,620.6 2414.9,630.9"/><polygon points="2401.7,632.3 2414.4,626.2 2415.4,635.5"/>
<path d="M3007.0,575.5C2990.0,583.7 2973.0,591.8 2956.0,600.0C2922.7,616.1 2889.7,633.1 2856.0,648.4C2818.4,665.5 2780.1,681.0 2742.2,697.3"/><polygon points="2730.0,702.6 2740.4,693.0 2744.1,701.7"/>
<path d="M2676.0,497.5C2657.3,511.7 2637.1,524.1 2620.0,540.0C2600.3,558.3 2584.7,581.0 2565.6,600.0C2550.4,615.0 2532.8,627.5 2517.0,642.0C2498.9,658.6 2481.6,676.2 2463.9,693.4"/><polygon points="2454.3,702.6 2460.6,690.0 2467.1,696.7"/>
<path d="M2663.4,725.8C2619.9,730.1 2576.5,735.0 2533.0,738.8C2479.4,743.4 2425.8,748.6 2372.0,751.0C2108.1,762.6 1844.0,772.1 1580.0,780.7C1456.5,784.7 1333.0,786.4 1209.5,788.8C1122.4,790.5 1035.4,791.5 948.3,792.8"/><polygon points="935.0,793.0 948.2,788.1 948.4,797.5"/>
<path d="M2688.0,730.0L2651.9,770.1"/><polygon points="2643.0,780.0 2648.4,767.0 2655.4,773.3"/>
<path d="M2715.7,730.0L2750.3,769.9"/><polygon points="2759.0,780.0 2746.7,773.0 2753.8,766.9"/>
</g>
<g>
<rect class="f" x="1529.5" y="7.5" width="212.0" height="26.0" stroke-width="1"/>
<text x="1539.6" y="23.9" textLength="190.5" lengthAdjust="spacingAndGlyphs">baciAlarmSystemMonitor_T.h</text>
<rect class="k" x="1519.5" y="84.5" width="231.0" height="27.0" stroke-width="1"/>
<text x="1529.6" y="100.9" textLength="209.5" lengthAdjust="spacingAndGlyphs">baciAlarmSystemMonitorBase.h</text>
<rect class="k" x="2564.5" y="161.5" width="99.0" height="27.0" stroke-width="1"/>
<text x="2574.6" y="178.9" textLength="77.0" lengthAdjust="spacingAndGlyphs">baciEvent.h</text>
<rect class="k" x="1936.5" y="239.5" width="61.0" height="26.0" stroke-width="1"/>
<text x="1946.6" y="255.9" textLength="39.2" lengthAdjust="spacingAndGlyphs">baci.h</text>
<rect class="k" x="455.5" y="316.5" width="182.0" height="27.0" stroke-width="1"/>
<text x="465.6" y="332.9" textLength="158.9" lengthAdjust="spacingAndGlyphs">AlarmSystemInterface.h</text>
<rect class="g" x="1191.5" y="316.5" width="159.0" height="27.0" stroke-width="1"/>
<text x="1201.6" y="332.9" textLength="136.4" lengthAdjust="spacingAndGlyphs">ACSErrTypeMonitor.h</text>
<rect class="g" x="1373.5" y="316.5" width="129.0" height="27.0" stroke-width="1"/>
<text x="1383.6" y="332.9" textLength="106.5" lengthAdjust="spacingAndGlyphs">ACSErrTypeOK.h</text>
<rect class="g" x="1525.5" y="316.5" width="86.0" height="27.0" stroke-width="1"/>
<text x="1535.6" y="332.9" textLength="62.9" lengthAdjust="spacingAndGlyphs">algorithm</text>
<rect class="r" x="1736.5" y="316.5" width="168.0" height="27.0" stroke-width="1"/>
<text x="1746.6" y="332.9" textLength="146.8" lengthAdjust="spacingAndGlyphs">baciBACIComponent.h</text>
<rect class="r" x="2297.5" y="316.5" width="92.0" height="27.0" stroke-width="1"/>
<text x="2307.6" y="332.9" textLength="70.1" lengthAdjust="spacingAndGlyphs">baciError.h</text>
<rect class="k" x="375.5" y="393.5" width="114.0" height="27.0" stroke-width="1"/>
<text x="385.6" y="410.9" textLength="90.9" lengthAdjust="spacingAndGlyphs">ASIMessage.h</text>
<rect class="g" x="584.5" y="393.5" width="91.0" height="27.0" stroke-width="1"/>
<text x="594.6" y="410.9" textLength="68.2" lengthAdjust="spacingAndGlyphs">ace/Task.h</text>
<rect class="g" x="1090.5" y="393.5" width="164.0" height="27.0" stroke-width="1"/>
<text x="1100.6" y="410.9" textLength="142.4" lengthAdjust="spacingAndGlyphs">baciErrTypeProperty.h</text>
<rect class="r" x="1378.5" y="393.5" width="145.0" height="27.0" stroke-width="1"/>
<text x="1388.6" y="410.9" textLength="124.1" lengthAdjust="spacingAndGlyphs">baciBACIProperty.h</text>
<rect class="k" x="1923.5" y="393.5" width="133.0" height="27.0" stroke-width="1"/>
<text x="1933.6" y="410.9" textLength="111.5" lengthAdjust="spacingAndGlyphs">baciBACIAction.h</text>
<rect class="k" x="2181.5" y="393.5" width="148.0" height="27.0" stroke-width="1"/>
<text x="2191.6" y="410.9" textLength="126.1" lengthAdjust="spacingAndGlyphs">baciBACICallback.h</text>
<rect class="r" x="2402.5" y="393.5" width="73.0" height="27.0" stroke-width="1"/>
<text x="2412.6" y="410.9" textLength="51.5" lengthAdjust="spacingAndGlyphs">acserr.h</text>
<rect class="k" x="5.5" y="471.5" width="145.0" height="26.0" stroke-width="1"/>
<text x="15.6" y="487.9" textLength="122.6" lengthAdjust="spacingAndGlyphs">ASIConfiguration.h</text>
<rect class="k" x="509.5" y="471.5" width="100.0" height="26.0" stroke-width="1"/>
<text x="519.6" y="487.9" textLength="78.4" lengthAdjust="spacingAndGlyphs">FaultState.h</text>
<rect class="k" x="1248.5" y="471.5" width="141.0" height="26.0" stroke-width="1"/>
<text x="1258.6" y="487.9" textLength="119.1" lengthAdjust="spacingAndGlyphs">baciBACIMonitor.h</text>
<rect class="k" x="1607.5" y="471.5" width="108.0" height="26.0" stroke-width="1"/>
<text x="1617.6" y="487.9" textLength="85.3" lengthAdjust="spacingAndGlyphs">baciThread.h</text>
<rect class="g" x="1890.5" y="471.5" width="63.0" height="26.0" stroke-width="1"/>
<text x="1900.6" y="487.9" textLength="40.6" lengthAdjust="spacingAndGlyphs">deque</text>
<rect class="r" x="2280.5" y="471.5" width="120.0" height="26.0" stroke-width="1"/>
<text x="2290.6" y="487.9" textLength="97.7" lengthAdjust="spacingAndGlyphs">baciRegistrar.h</text>
<rect class="r" x="2576.5" y="471.5" width="229.0" height="26.0" stroke-width="1"/>
<text x="2586.6" y="487.9" textLength="207.3" lengthAdjust="spacingAndGlyphs">archiveeventsArchiveSupplier.h</text>
<rect class="k" x="275.5" y="548.5" width="109.0" height="27.0" stroke-width="1"/>
<text x="285.6" y="564.9" textLength="85.5" lengthAdjust="spacingAndGlyphs">Timestamp.h</text>
<rect class="g" x="560.5" y="548.5" width="80.0" height="27.0" stroke-width="1"/>
<text x="570.6" y="564.9" textLength="57.2" lengthAdjust="spacingAndGlyphs">iostream</text>
<rect class="k" x="663.5" y="548.5" width="100.0" height="27.0" stroke-width="1"/>
<text x="673.6" y="564.9" textLength="78.5" lengthAdjust="spacingAndGlyphs">Properties.h</text>
<rect class="k" x="1452.5" y="548.5" width="152.0" height="27.0" stroke-width="1"/>
<text x="1462.6" y="564.9" textLength="130.1" lengthAdjust="spacingAndGlyphs">acsutilTimeStamp.h</text>
<rect class="r" x="1628.5" y="548.5" width="133.0" height="27.0" stroke-width="1"/>
<text x="1638.6" y="564.9" textLength="112.3" lengthAdjust="spacingAndGlyphs">acsThreadBase.h</text>
<rect class="k" x="1887.5" y="548.5" width="98.0" height="27.0" stroke-width="1"/>
<text x="1897.6" y="564.9" textLength="75.4" lengthAdjust="spacingAndGlyphs">baciValue.h</text>
<rect class="r" x="2764.5" y="548.5" width="107.0" height="27.0" stroke-width="1"/>
<text x="2774.6" y="564.9" textLength="85.8" lengthAdjust="spacingAndGlyphs">baciCORBA.h</text>
<rect class="k" x="2944.5" y="548.5" width="186.0" height="27.0" stroke-width="1"/>
<text x="2954.6" y="564.9" textLength="163.8" lengthAdjust="spacingAndGlyphs">baciRecoverableObject.h</text>
<rect class="g" x="207.5" y="625.5" width="60.0" height="27.0" stroke-width="1"/>
<text x="217.6" y="642.9" textLength="37.1" lengthAdjust="spacingAndGlyphs">string</text>
<rect class="g" x="484.5" y="625.5" width="77.0" height="27.0" stroke-width="1"/>
<text x="494.6" y="642.9" textLength="54.4" lengthAdjust="spacingAndGlyphs">memory</text>
<rect class="g" x="626.5" y="625.5" width="87.0" height="27.0" stroke-width="1"/>
<text x="636.6" y="642.9" textLength="64.0" lengthAdjust="spacingAndGlyphs">stdexcept</text>
<rect class="g" x="939.5" y="625.5" width="50.0" height="27.0" stroke-width="1"/>
<text x="949.6" y="642.9" textLength="28.5" lengthAdjust="spacingAndGlyphs">map</text>
<rect class="r" x="1272.5" y="625.5" width="83.0" height="27.0" stroke-width="1"/>
<text x="1282.6" y="642.9" textLength="60.7" lengthAdjust="spacingAndGlyphs">logging.h</text>
<rect class="g" x="1429.5" y="625.5" width="142.0" height="27.0" stroke-width="1"/>
<text x="1439.6" y="642.9" textLength="119.7" lengthAdjust="spacingAndGlyphs">ace/OS_NS_time.h</text>
<rect class="g" x="1595.5" y="625.5" width="109.0" height="27.0" stroke-width="1"/>
<text x="1605.6" y="642.9" textLength="87.5" lengthAdjust="spacingAndGlyphs">ace/SString.h</text>
<rect class="k" x="1829.5" y="625.5" width="99.0" height="27.0" stroke-width="1"/>
<text x="1839.6" y="642.9" textLength="76.4" lengthAdjust="spacingAndGlyphs">baciTypes.h</text>
<rect class="g" x="2002.5" y="625.5" width="103.0" height="27.0" stroke-width="1"/>
<text x="2012.6" y="642.9" textLength="79.9" lengthAdjust="spacingAndGlyphs">ace/Synch.h</text>
<rect class="g" x="2128.5" y="625.5" width="93.0" height="27.0" stroke-width="1"/>
<text x="2138.6" y="642.9" textLength="70.7" lengthAdjust="spacingAndGlyphs">baciValue.i</text>
<rect class="k" x="2295.5" y="625.5" width="106.0" height="27.0" stroke-width="1"/>
<text x="2305.6" y="642.9" textLength="82.4" lengthAdjust="spacingAndGlyphs">baciExport.h</text>
<rect class="g" x="1481.5" y="703.5" width="123.0" height="26.0" stroke-width="1"/>
<text x="1491.6" y="719.9" textLength="100.7" lengthAdjust="spacingAndGlyphs">acscommonC.h</text>
<rect class="g" x="2402.5" y="703.5" width="71.0" height="26.0" stroke-width="1"/>
<text x="2412.6" y="719.9" textLength="48.4" lengthAdjust="spacingAndGlyphs">baciC.h</text>
<rect class="g" x="2545.5" y="703.5" width="70.0" height="26.0" stroke-width="1"/>
<text x="2555.6" y="719.9" textLength="47.5" lengthAdjust="spacingAndGlyphs">baciS.h</text>
<rect class="k" x="2663.5" y="703.5" width="77.0" height="26.0" stroke-width="1"/>
<text x="2673.6" y="719.9" textLength="54.9" lengthAdjust="spacingAndGlyphs">acsutil.h</text>
<rect class="g" x="869.5" y="780.5" width="64.0" height="27.0" stroke-width="1"/>
<text x="879.6" y="796.9" textLength="41.1" lengthAdjust="spacingAndGlyphs">vector</text>
<rect class="g" x="2551.5" y="780.5" width="157.0" height="27.0" stroke-width="1"/>
<text x="2561.6" y="796.9" textLength="135.2" lengthAdjust="spacingAndGlyphs">ace/Functor_String.h</text>
<rect class="g" x="2732.5" y="780.5" width="80.0" height="27.0" stroke-width="1"/>
<text x="2742.6" y="796.9" textLength="58.5" lengthAdjust="spacingAndGlyphs">ace/OS.h</text>
</g></svg></body></html>
